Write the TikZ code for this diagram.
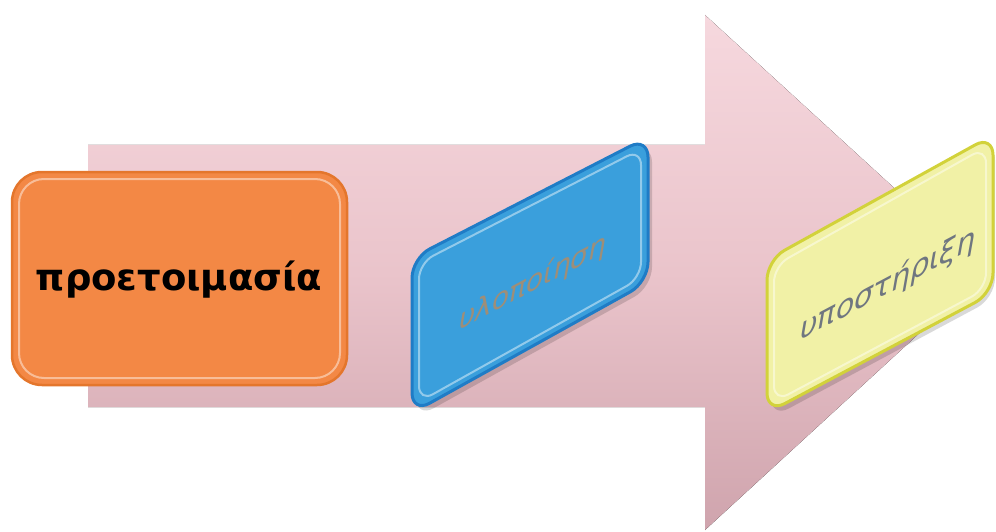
\documentclass[tikz,border=0pt]{standalone}
\usepackage{fontspec}
\setmainfont{DejaVu Sans}
\definecolor{pinktop}{HTML}{F6D8DE}
\definecolor{pinkmid}{HTML}{EAC4CB}
\definecolor{pinkbot}{HTML}{CFA4AD}
\definecolor{orangefill}{HTML}{F38845}
\definecolor{orangeedge}{HTML}{E4762C}
\definecolor{bluefill}{HTML}{3A9FDC}
\definecolor{blueedge}{HTML}{1F7CC6}
\definecolor{yellowfill}{HTML}{F1F1A6}
\definecolor{yellowedge}{HTML}{D2D23A}
\definecolor{bluetext}{HTML}{9E8E78}
\definecolor{yellowtext}{HTML}{6F7680}
\tikzset{
  boxshadow/.style={fill=black, opacity=0.15},
  glow/.style={draw=white, opacity=0.45, line width=2},
  steplabel/.style={inner sep=0pt, font=\itshape\fontsize{28}{32}\selectfont, yslant=0.53}
}
\begin{document}
\begin{tikzpicture}[x=1pt,y=-1pt]
\useasboundingbox (0,0) rectangle (996,532);
% big arrow
\fill[top color=pinktop, bottom color=pinkbot, middle color=pinkmid]
  (88,145) -- (705,145) -- (705,15) -- (986,272) -- (705,530) -- (705,407) -- (88,407) -- cycle;
% orange box
\draw[rounded corners=30, fill=orangefill, draw=orangeedge, line width=2.5] (12,172) rectangle (347,385);
\draw[glow, rounded corners=25] (19,179) rectangle (340,378);
\node[font=\bfseries\fontsize{37}{42}\selectfont] (prep) at (179,280) {προετοιμασία};
% blue slanted box
\fill[boxshadow, rounded corners=20] (416,263) -- (652,142) -- (652,287) -- (416,418) -- cycle;
\draw[rounded corners=20, fill=bluefill, draw=blueedge, line width=3] (412,258) -- (648,137) -- (648,282) -- (412,413) -- cycle;
\draw[glow, rounded corners=16] (419,263) -- (641,149) -- (641,278) -- (419,402) -- cycle;
\node[steplabel, text=bluetext] (impl) at (533,283) {υλοποίηση};
% yellow slanted box
\fill[boxshadow, rounded corners=20] (771,265) -- (995,140) -- (995,298) -- (771,418) -- cycle;
\draw[rounded corners=20, fill=yellowfill, draw=yellowedge, line width=3] (767,260) -- (993,135) -- (993,293) -- (767,413) -- cycle;
\draw[glow, rounded corners=16] (774,266) -- (986,147) -- (986,289) -- (774,402) -- cycle;
\node[steplabel, text=yellowtext, font=\itshape\fontsize{30}{34}\selectfont] (supp) at (888,285) {υποστήριξη};
\end{tikzpicture}
\end{document}
